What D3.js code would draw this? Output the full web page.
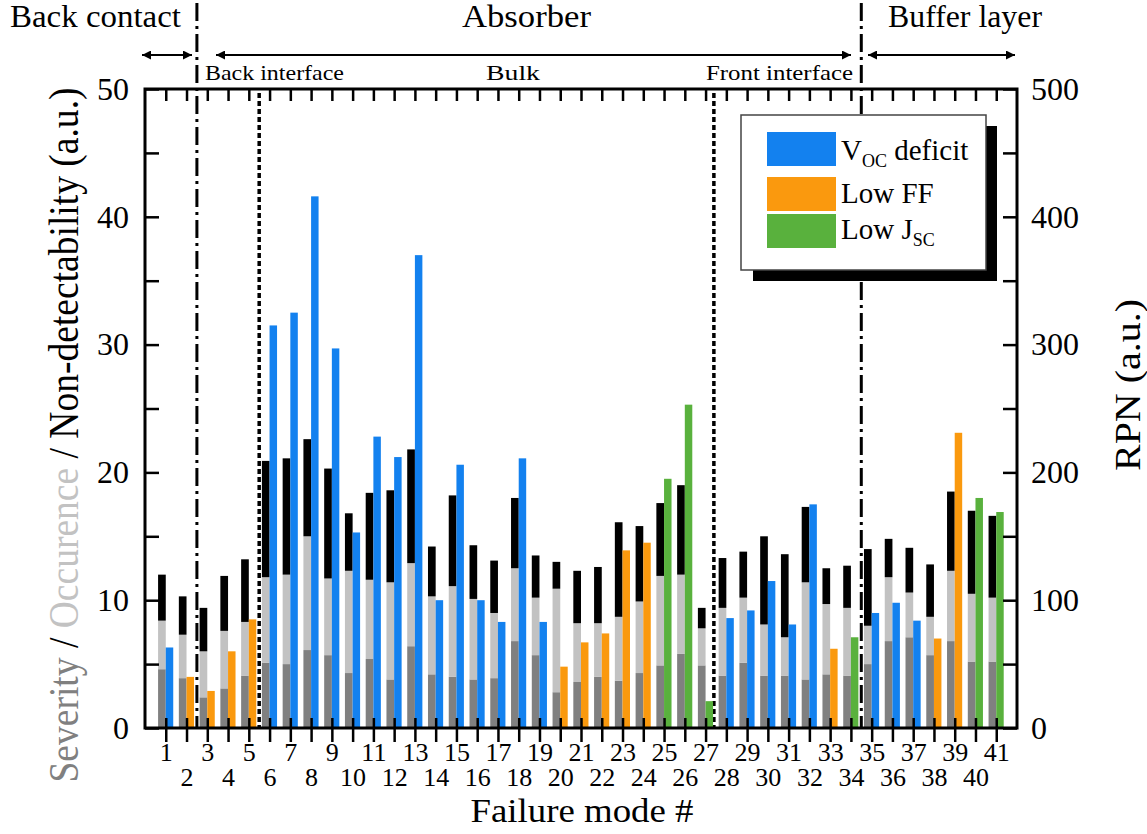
<!DOCTYPE html>
<html lang="en">
<head>
<meta charset="UTF-8" />
<title>Failure modes</title>
<script src="https://d3js.org/d3.v7.min.js"></script>
<style>
  body { margin: 0; background: #fff; }
  text { font-family: "Liberation Serif", "Times New Roman", serif; fill: #000; }
</style>
</head>
<body>
<script>
// ---- data ----
const modeIds = [1,2,3,4,5,6,7,8,9,10,11,12,13,14,15,16,17,18,19,20,21,22,23,24,25,26,27,28,29,30,31,32,33,34,35,36,37,38,39,40,41];
const severity = [4.6,3.9,2.4,3.1,4.1,5.1,5.0,6.1,5.7,4.3,5.4,3.8,6.4,4.2,4.0,3.8,3.9,6.8,5.7,2.8,3.6,4.0,3.7,4.3,4.9,5.8,4.9,4.1,5.1,4.1,4.1,3.8,4.2,4.1,5.0,6.8,7.1,5.7,6.8,5.2,5.2];
const occurrence = [3.8,3.4,3.6,4.5,4.2,6.7,7.0,8.9,6.0,8.0,6.2,7.6,6.5,6.1,7.1,6.3,5.1,5.7,4.5,8.1,4.6,4.2,5.0,5.6,7.0,6.2,2.9,5.3,5.1,4.0,3.0,7.6,5.5,5.3,3.0,5.0,3.5,3.0,5.5,5.3,5.0];
const nonDetectability = [3.6,3.0,3.4,4.3,4.9,9.1,9.1,7.6,8.6,4.5,6.8,7.2,8.9,3.9,7.1,4.2,4.1,5.5,3.3,2.1,4.1,4.4,7.4,5.9,5.7,7.0,1.6,3.9,3.6,6.9,6.5,5.9,2.8,3.3,6.0,3.0,3.5,4.1,6.2,6.5,6.4];
const rpn = [63,40,29,60,85,315,325,416,297,153,228,212,370,100,206,100,83,211,83,48,67,74,139,145,195,253,21,86,92,115,81,175,62,71,90,98,84,70,231,180,169];
const lossType = ["Voc","FF","FF","FF","FF",
  "Voc","Voc","Voc","Voc","Voc","Voc","Voc","Voc","Voc","Voc","Voc","Voc","Voc","Voc",
  "FF","FF","FF","FF","FF","Jsc","Jsc","Jsc",
  "Voc","Voc","Voc","Voc","Voc","FF","Jsc",
  "Voc","Voc","Voc","FF","FF","Jsc","Jsc"];
const lossKeys = ["Voc","FF","Jsc"];
const lossColors = ["#1381ef","#fa990e","#59b13d"];
const stackKeys = ["severity","occurrence","nonDetectability"];
const stackColors = ["#808080","#c2c2c2","#000000"];
const leftTicks = [0,5,10,15,20,25,30,35,40,45,50];
const rightTicks = [0,50,100,150,200,250,300,350,400,450,500];

const width = 1147, height = 834;
const svg = d3.select("body").append("svg").attr("width", width).attr("height", height);

const x = d3.scaleLinear().domain([0, 42]).range([145, 1017]);
const y = d3.scaleLinear().domain([0, 50]).range([728, 89]);
const yR = d3.scaleLinear().domain([0, 500]).range([728, 89]);
const color = d3.scaleOrdinal(lossKeys, lossColors);

const rows = modeIds.map((id, i) => ({
  id, severity: severity[i], occurrence: occurrence[i], nonDetectability: nonDetectability[i],
  rpn: rpn[i], loss: lossType[i]
}));

// separators
const sep = svg.append("g").attr("stroke", "#000").attr("fill", "none");
sep.append("line").attr("x1", x(2.5)).attr("x2", x(2.5)).attr("y1", 3).attr("y2", 728)
  .attr("stroke-width", 3).attr("stroke-dasharray", "18,5,3,5");
sep.append("line").attr("x1", x(34.5)).attr("x2", x(34.5)).attr("y1", 3).attr("y2", 728)
  .attr("stroke-width", 3).attr("stroke-dasharray", "18,5,3,5");
sep.append("line").attr("x1", x(5.5)).attr("x2", x(5.5)).attr("y1", 93).attr("y2", 728)
  .attr("stroke-width", 3.5).attr("stroke-dasharray", "5,3");
sep.append("line").attr("x1", x(27.4)).attr("x2", x(27.4)).attr("y1", 93).attr("y2", 728)
  .attr("stroke-width", 3.5).attr("stroke-dasharray", "5,3");

// stacked S / O / D bars
const stack = d3.stack().keys(stackKeys)(rows);
svg.append("g").selectAll("g").data(stack).join("g")
  .attr("fill", (d, i) => stackColors[i])
  .selectAll("rect").data(d => d).join("rect")
  .attr("x", d => x(d.data.id - 0.37))
  .attr("width", x(0.37) - x(0))
  .attr("y", d => y(d[1]))
  .attr("height", d => y(d[0]) - y(d[1]));

// RPN bars
svg.append("g").selectAll("rect").data(rows).join("rect")
  .attr("x", d => x(d.id))
  .attr("width", x(0.36) - x(0))
  .attr("y", d => yR(d.rpn))
  .attr("height", d => yR(0) - yR(d.rpn))
  .attr("fill", d => color(d.loss));

// axes
const axisFont = g => g.selectAll("text").style("font-family", "Liberation Serif, serif").attr("fill", "#000");
svg.append("g").attr("transform", "translate(145,0)")
  .call(d3.axisLeft(y).tickValues(leftTicks).tickSize(-14).tickPadding(16)
    .tickFormat(d => d % 10 === 0 ? d : ""))
  .call(g => g.select(".domain").remove())
  .call(g => g.selectAll("line").attr("stroke-width", 2.5))
  .call(g => g.selectAll("text").style("font-size", "32px"))
  .call(axisFont);

svg.append("g").attr("transform", "translate(1017,0)")
  .call(d3.axisRight(yR).tickValues(rightTicks).tickSize(-14).tickPadding(14)
    .tickFormat(d => d % 100 === 0 ? d : ""))
  .call(g => g.select(".domain").remove())
  .call(g => g.selectAll("line").attr("stroke-width", 2.5))
  .call(g => g.selectAll("text").style("font-size", "32px"))
  .call(axisFont);

svg.append("g").attr("transform", "translate(0,89)")
  .call(d3.axisTop(x).tickValues(modeIds).tickSize(-12).tickFormat(""))
  .call(g => g.select(".domain").remove())
  .call(g => g.selectAll("line").attr("stroke-width", 2.5));

svg.append("g").attr("transform", "translate(0,728)")
  .call(d3.axisBottom(x).tickValues(modeIds).tickSize(14))
  .call(g => g.select(".domain").remove())
  .call(g => g.selectAll("line").attr("y1", -10).attr("stroke-width", 2.5))
  .call(g => g.selectAll("text").attr("dy", null).attr("y", d => d % 2 ? 33 : 58)
    .style("font-size", "26px"))
  .call(axisFont);

// frame
svg.append("rect").attr("x", 145).attr("y", 89).attr("width", 872).attr("height", 639)
  .attr("fill", "none").attr("stroke", "#000").attr("stroke-width", 3);

// legend
const legend = svg.append("g");
legend.append("rect").attr("x", 753).attr("y", 126).attr("width", 244).attr("height", 155).attr("fill", "#000");
legend.append("rect").attr("x", 741).attr("y", 115).attr("width", 245).attr("height", 155)
  .attr("fill", "#fff").attr("stroke", "#444").attr("stroke-width", 1.5);
const rowOffsets = [0, 45, 82];
lossKeys.forEach((k, i) => {
  legend.append("rect").attr("x", 767).attr("y", 132 + rowOffsets[i]).attr("width", 69).attr("height", 34)
    .attr("fill", color(k));
});
const lt = legend.append("g").style("font-size", "29px");
lt.append("text").attr("x", 841).attr("y", 160)
  .html('V<tspan dy="7" style="font-size:18px">OC</tspan><tspan dy="-7"> deficit</tspan>');
lt.append("text").attr("x", 841).attr("y", 203).text("Low FF");
lt.append("text").attr("x", 841).attr("y", 239)
  .html('Low J<tspan dy="7" style="font-size:18px">SC</tspan>');

// region labels and arrows
const defs = svg.append("defs");
defs.append("marker").attr("id", "ah").attr("viewBox", "0 0 10 10").attr("refX", 10).attr("refY", 5)
  .attr("markerWidth", 11).attr("markerHeight", 9).attr("markerUnits", "userSpaceOnUse")
  .attr("orient", "auto-start-reverse")
  .append("path").attr("d", "M0,0 L10,5 L0,10 z").attr("fill", "#000");
const arrows = [[142, 192], [216, 851], [868, 1015]];
svg.append("g").selectAll("line").data(arrows).join("line")
  .attr("x1", d => d[0]).attr("x2", d => d[1]).attr("y1", 55).attr("y2", 55)
  .attr("stroke", "#000").attr("stroke-width", 2)
  .attr("marker-start", "url(#ah)").attr("marker-end", "url(#ah)");

const topLabel = (t, x0, len, yy, fs) => svg.append("text").attr("x", x0).attr("y", yy)
  .style("font-size", fs + "px").attr("textLength", len).attr("lengthAdjust", "spacingAndGlyphs").text(t);
topLabel("Back contact", 10, 171, 27, 31);
topLabel("Absorber", 462, 129, 27, 31);
topLabel("Buffer layer", 888, 154, 27, 31);
topLabel("Back interface", 205, 139, 80, 22);
topLabel("Bulk", 486, 54, 80, 22);
topLabel("Front interface", 706, 147, 80, 22);

// axis titles
const yTitle = svg.append("text").attr("transform", "translate(78,435) rotate(-90)")
  .attr("text-anchor", "middle").style("font-size", "42px")
  .attr("textLength", 695).attr("lengthAdjust", "spacingAndGlyphs");
yTitle.append("tspan").attr("fill", "#808080").text("Severity");
yTitle.append("tspan").text(" / ");
yTitle.append("tspan").attr("fill", "#c2c2c2").text("Occurence");
yTitle.append("tspan").text(" / Non-detectability (a.u.)");

svg.append("text").attr("transform", "translate(1140,385) rotate(-90)")
  .attr("text-anchor", "middle").style("font-size", "36px")
  .attr("textLength", 172).attr("lengthAdjust", "spacingAndGlyphs").text("RPN (a.u.)");

svg.append("text").attr("x", 582).attr("y", 822).attr("text-anchor", "middle")
  .style("font-size", "33px").attr("textLength", 223).attr("lengthAdjust", "spacingAndGlyphs")
  .text("Failure mode #");
</script>
</body>
</html>
